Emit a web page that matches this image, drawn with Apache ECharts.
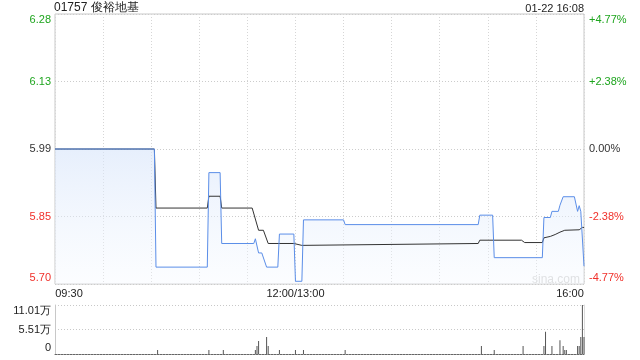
<!DOCTYPE html>
<html>
<head>
<meta charset="utf-8">
<script src="https://cdn.jsdelivr.net/npm/echarts@6/dist/echarts.min.js"></script>
<style>html,body{margin:0;padding:0;background:#fff}#c{width:640px;height:360px}</style>
</head>
<body>
<div id="c"></div>
<script>
// ---- data ----
const stockTitle = '01757 俊裕地基';
const stampText = '01-22 16:08';
const prevClose = 5.99;
const priceTickLabels = ['5.70', '5.85', '5.99', '6.13', '6.28'];
const pctTickLabels = ['-4.77%', '-2.38%', '0.00%', '+2.38%', '+4.77%'];
const timeTickLabels = ['09:30', '12:00/13:00', '16:00'];
const volTickLabels = ['0', '5.51万', '11.01万'];

const priceTimes = ['09:30','10:32','10:33','11:05','11:06','11:13','11:14','11:34','11:35','11:37','11:39','11:42','11:49','11:50','11:59','13:00','13:04','13:05','13:30','13:31','14:54','14:55','15:03','15:04','15:34','15:35','15:39','15:40','15:44','15:45','15:46','15:47','15:54','15:56','15:57','15:58','16:00'];
const priceValues = [5.99,5.99,5.74,5.74,5.94,5.94,5.79,5.79,5.80,5.77,5.77,5.74,5.74,5.81,5.81,5.71,5.71,5.84,5.84,5.83,5.83,5.85,5.85,5.76,5.76,5.845,5.845,5.858,5.858,5.871,5.871,5.889,5.889,5.858,5.87,5.858,5.742];

const avgTimes = ['09:30','10:32','10:33','11:05','11:06','11:13','11:14','11:33','11:37','11:40','11:43','11:59','13:00','13:04','13:05','14:54','14:55','15:21','15:23','15:34','15:35','15:39','15:42','15:45','15:48','15:57','15:59','16:00'];
const avgValues = [5.99,5.99,5.865,5.865,5.89,5.89,5.865,5.865,5.818,5.818,5.79,5.79,5.786,5.786,5.79,5.79,5.797,5.797,5.792,5.792,5.802,5.805,5.809,5.814,5.818,5.819,5.824,5.824];

const volTimes = ['10:34','11:06','11:15','11:35','11:36','11:37','11:42','11:43','11:50','13:00','13:05','13:31','14:56','15:04','15:22','15:35','15:36','15:40','15:45','15:47','15:48','15:49','15:56','15:57','15:58','15:59','16:00'];
const volValues = [9000,9000,9000,9000,18000,29000,38000,18000,9000,9000,9000,9000,18000,9000,18000,18000,50000,18000,31000,18000,9000,9000,18000,18000,38000,110100,38000];

// ---- helpers ----
function toIdx(t) {
  const p = t.split(':').map(Number);
  const mins = p[0] * 60 + p[1];
  return mins <= 720 ? mins - 570 : mins - 780 + 150;
}
const pct = v => (v / prevClose - 1) * 100;
const PMIN = -4.77, PMAX = 4.77, PINT = 2.385;
const VMAX = 110100, VINT = 55050;
const GREEN = '#1ea51e', RED = '#f0302a', DARK = '#333';
const FONT = 'Liberation Sans, Arial, sans-serif';

const priceData = priceTimes.map((t, i) => [toIdx(t), pct(priceValues[i])]);
const avgData = avgTimes.map((t, i) => [toIdx(t), pct(avgValues[i])]);
const volData = volTimes.map((t, i) => [toIdx(t), volValues[i]]);

function pIdx(v) { return Math.round((v - PMIN) / PINT); }
function edgeFmt(labels, idx) {
  const s = labels[idx];
  if (idx === labels.length - 1) return '{t|' + s + '}';
  if (idx === 0) return '{b|' + s + '}';
  return s;
}
function pColor(v) { const i = pIdx(v); return i > 2 ? GREEN : (i < 2 ? RED : DARK); }
const edgeRich = { t: { padding: [12, 0, 0, 0] }, b: { padding: [0, 0, 12, 0] } };

const chart = echarts.init(document.getElementById('c'), null, { renderer: 'canvas' });
chart.setOption({
  animation: false,
  backgroundColor: '#fff',
  textStyle: { fontFamily: FONT },
  title: [
    { text: stockTitle, left: 54, top: 2, padding: 0, textStyle: { fontSize: 12, fontWeight: 'normal', color: '#222', fontFamily: FONT } },
    { text: stampText, right: 56, top: 3, padding: 0, textStyle: { fontSize: 11, fontWeight: 'normal', color: '#222', fontFamily: FONT } }
  ],
  graphic: [
    { type: 'text', left: 532, top: 274, silent: true, z: 1, style: { text: 'sina.com', fill: '#d4d4d4', font: '12px ' + FONT } }
  ],
  grid: [
    { left: 55, top: 14, width: 529, height: 270, show: true, borderColor: '#c8c8c8', borderWidth: 1, backgroundColor: 'transparent' },
    { left: 55, top: 305, width: 529, height: 49, show: false }
  ],
  xAxis: [
    {
      type: 'value', gridIndex: 0, min: 0, max: 330, interval: 30,
      axisLine: { show: false }, axisTick: { show: false },
      splitLine: { show: true, lineStyle: { color: '#d6d6d6', type: [1, 2] } },
      axisLabel: {
        show: true, margin: 4, fontSize: 11, color: '#222', fontFamily: FONT,
        showMinLabel: true, showMaxLabel: true,
        formatter: function (v) {
          if (v === 0) return '{l|' + timeTickLabels[0] + '}';
          if (v === 150) return timeTickLabels[1];
          if (v === 330) return '{r|' + timeTickLabels[2] + '}';
          return '';
        },
        rich: { l: { padding: [0, 0, 0, 28] }, r: { padding: [0, 28, 0, 0] } }
      }
    },
    {
      type: 'value', gridIndex: 1, min: 0, max: 330, interval: 30,
      axisLine: { show: true, lineStyle: { color: '#666', type: [2, 1] } },
      axisTick: { show: false }, axisLabel: { show: false }, splitLine: { show: false }
    }
  ],
  yAxis: [
    {
      type: 'value', gridIndex: 0, position: 'left', min: PMIN, max: PMAX, interval: PINT,
      axisLine: { show: false }, axisTick: { show: false },
      splitLine: { show: true, lineStyle: { color: '#cccccc', type: [1, 2] } },
      axisLabel: {
        margin: 4, fontSize: 11, fontFamily: FONT,
        color: v => pColor(v),
        formatter: v => edgeFmt(priceTickLabels, pIdx(v)),
        rich: edgeRich
      }
    },
    {
      type: 'value', gridIndex: 0, position: 'right', min: PMIN, max: PMAX, interval: PINT,
      axisLine: { show: false }, axisTick: { show: false }, splitLine: { show: false },
      axisLabel: {
        margin: 5, fontSize: 11, fontFamily: FONT,
        color: v => pColor(v),
        formatter: v => edgeFmt(pctTickLabels, pIdx(v)),
        rich: edgeRich
      }
    },
    {
      type: 'value', gridIndex: 1, position: 'left', min: 0, max: VMAX, interval: VINT,
      axisLine: { show: true, lineStyle: { color: '#c8c8c8' } }, axisTick: { show: false },
      splitLine: { show: true, lineStyle: { color: '#c8c8c8', type: [1, 2] } },
      axisLabel: {
        margin: 4, fontSize: 11, fontFamily: FONT, color: '#222',
        formatter: v => edgeFmt(volTickLabels, Math.round(v / VINT)),
        rich: edgeRich
      }
    },
    {
      type: 'value', gridIndex: 1, position: 'right', min: 0, max: VMAX, interval: VINT,
      axisLine: { show: true, lineStyle: { color: '#dcdcdc' } }, axisTick: { show: false },
      splitLine: { show: false }, axisLabel: { show: false }
    }
  ],
  series: [
    {
      name: 'priceArea', type: 'line', xAxisIndex: 0, yAxisIndex: 0, data: priceData,
      symbol: 'none', z: 2, silent: true,
      lineStyle: { width: 0, opacity: 0 },
      areaStyle: {
        origin: 'start',
        color: new echarts.graphic.LinearGradient(0, 0, 0, 1, [
          { offset: 0, color: 'rgba(214,228,250,0.85)' },
          { offset: 1, color: 'rgba(245,249,255,0.5)' }
        ])
      }
    },
    {
      name: 'avg', type: 'line', xAxisIndex: 0, yAxisIndex: 0, data: avgData,
      symbol: 'none', z: 3,
      lineStyle: { color: '#333', width: 1 }
    },
    {
      name: 'price', type: 'line', xAxisIndex: 0, yAxisIndex: 0, data: priceData,
      symbol: 'none', z: 4,
      lineStyle: { color: '#5b8ee8', width: 1 }
    },
    {
      name: 'vol', type: 'bar', xAxisIndex: 1, yAxisIndex: 2, data: volData,
      barWidth: 1, itemStyle: { color: '#555' }
    }
  ]
});
</script>
</body>
</html>
